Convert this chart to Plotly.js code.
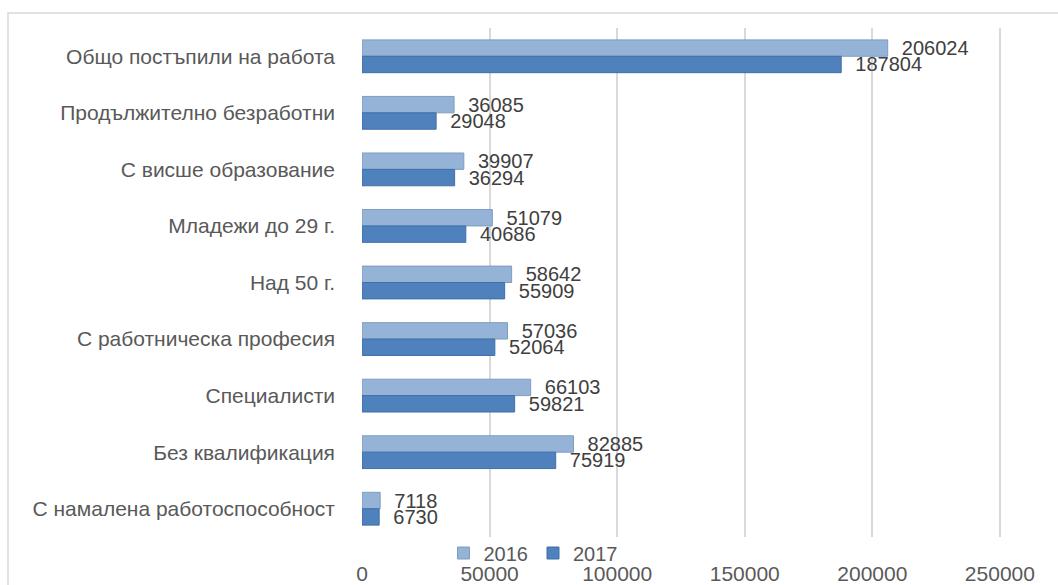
<!DOCTYPE html>
<html>
<head>
<meta charset="utf-8">
<script src="https://cdn.plot.ly/plotly-3.0.1.min.js"></script>
<style>
html,body{margin:0;padding:0;background:#fff;}
#chart{width:1058px;height:585px;}
</style>
</head>
<body>
<div id="chart"></div>
<script>
const categories = [
  "Общо постъпили на работа",
  "Продължително безработни",
  "С висше образование",
  "Младежи до 29 г.",
  "Над 50 г.",
  "С работническа професия",
  "Специалисти",
  "Без квалификация",
  "С намалена работоспособност"
];
const values2016 = [206024, 36085, 39907, 51079, 58642, 57036, 66103, 82885, 7118];
const values2017 = [187804, 29048, 36294, 40686, 55909, 52064, 59821, 75919, 6730];
const seriesNames = ["2016", "2017"];
const xTicks = [0, 50000, 100000, 150000, 200000, 250000];

const W = 1058, H = 585;
const M = {l: 362, r: 53, t: 28, b: 48};
const pw = W - M.l - M.r, ph = H - M.t - M.b;
const px = v => (v - M.l) / pw;
const py = v => (H - M.b - v) / ph;

const font = "Liberation Sans, Arial, sans-serif";

const traces = [
  {
    type: "bar", orientation: "h", name: seriesNames[0],
    y: categories, x: values2016,
    marker: {color: "#95B3D7", line: {color: "#7F9CC0", width: 1}},
    text: values2016.map(String), texttemplate: "  %{text}",
    textposition: "outside", constraintext: "none", cliponaxis: false,
    textfont: {family: font, size: 20, color: "#404040"},
    hoverinfo: "x+y"
  },
  {
    type: "bar", orientation: "h", name: seriesNames[1],
    y: categories, x: values2017,
    marker: {color: "#4F81BD", line: {color: "#3F6FA8", width: 1}},
    text: values2017.map(String), texttemplate: "  %{text}",
    textposition: "outside", constraintext: "none", cliponaxis: false,
    textfont: {family: font, size: 20, color: "#404040"},
    hoverinfo: "x+y"
  }
];

const layout = {
  width: W, height: H,
  margin: M,
  paper_bgcolor: "#fff", plot_bgcolor: "#fff",
  font: {family: font, size: 20, color: "#595959"},
  barmode: "group", bargap: 0.42, bargroupgap: 0,
  showlegend: true,
  legend: {
    orientation: "h", x: px(533), xanchor: "center", y: py(553), yanchor: "middle",
    font: {family: font, size: 20, color: "#595959"},
    bgcolor: "rgba(0,0,0,0)", itemwidth: 30, tracegroupgap: 0
  },
  xaxis: {
    range: [0, 252000], tickvals: xTicks, ticktext: xTicks.map(String),
    showgrid: true, gridcolor: "#D9D9D9", gridwidth: 2,
    zeroline: false, showline: false, ticks: "",
    ticklabelstandoff: 22,
    tickfont: {family: font, size: 21, color: "#595959"}
  },
  yaxis: {
    type: "category", autorange: "reversed",
    showgrid: false, zeroline: false, showline: false, ticks: "",
    ticklabelstandoff: 26,
    tickfont: {family: font, size: 21, color: "#595959"}
  },
  shapes: [
    {type: "rect", xref: "paper", yref: "paper",
     x0: px(8), x1: px(1070), y0: py(600), y1: py(13),
     line: {color: "#D9D9D9", width: 1.5}, fillcolor: "rgba(0,0,0,0)", layer: "below"}
  ]
};

Plotly.newPlot("chart", traces, layout, {displayModeBar: false, staticPlot: true});
</script>
</body>
</html>
